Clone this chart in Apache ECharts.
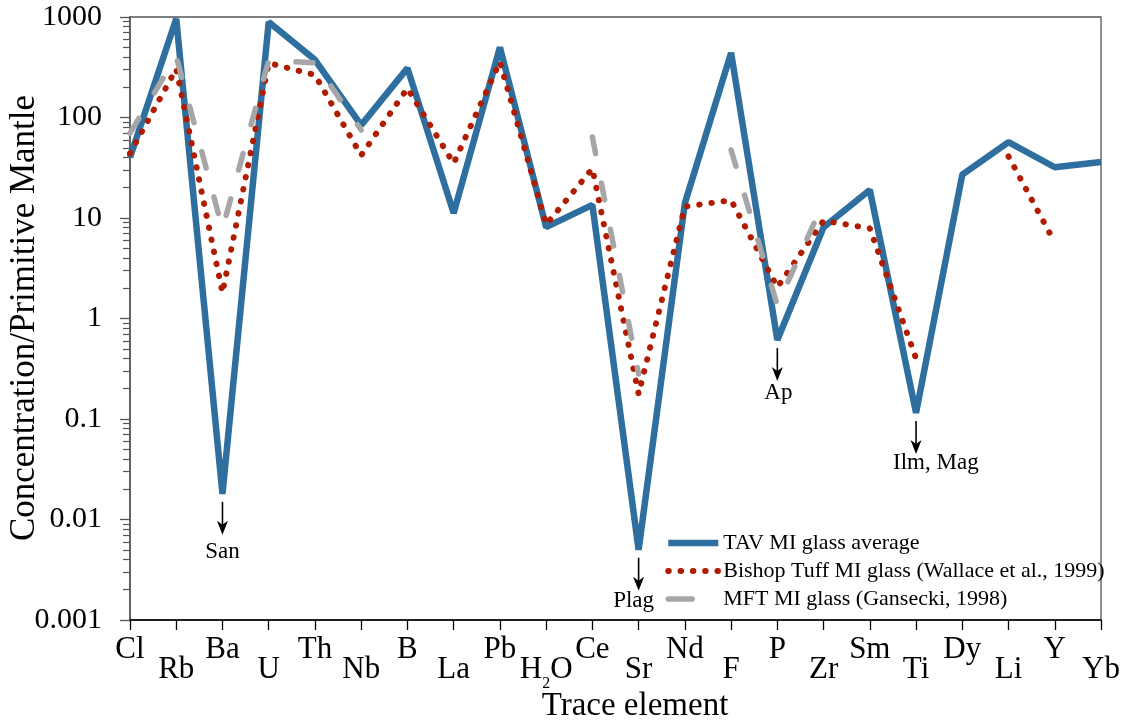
<!DOCTYPE html>
<html><head><meta charset="utf-8">
<script src="https://cdn.jsdelivr.net/npm/echarts@6/dist/echarts.min.js"></script>
<style>html,body{margin:0;padding:0;background:#fff}#c{width:1132px;height:723px}</style>
</head><body><div id="c"></div>
<script>
// ---- data ----
const categories = ['Cl','Rb','Ba','U','Th','Nb','B','La','Pb','H2O','Ce','Sr','Nd','F','P','Zr','Sm','Ti','Dy','Li','Y','Yb'];
const tavValues    = [40, 960, 0.018, 890, 375, 84, 310, 11.2, 500, 8.1, 13.5, 0.005, 14, 440, 0.61, 8.1, 19, 0.115, 27, 57, 32, 36];
const bishopValues = [44, 305, 1.8, 348, 265, 42, 195, 35, 358, 8.6, 31, 0.177, 13, 15, 2.05, 9.4, 7.9, 0.40, null, 41, 5.7, null];
const mftValues    = [70, 405, 7.8, 370, 350, 75, null, null, null, null, 64, 0.28, null, 47.5, 1.35, 14.5, null, null, null, null, null, null];
const seriesNames = ['TAV MI glass average', 'Bishop Tuff MI glass (Wallace et al., 1999)', 'MFT MI glass (Gansecki, 1998)'];
const yTickLabels = ['0.001','0.01','0.1','1','10','100','1000'];
const annotationCategories = ['Ba','Sr','P','Ti'];
const annotationLabels = ['San','Plag','Ap','Ilm, Mag'];
const xTitle = 'Trace element';
const yTitle = 'Concentration/Primitive Mantle';

// ---- layout / style ----
const FONT = 'Liberation Serif';
const BLUE = '#2e6f9f', RED = '#b01c00', GRAY = '#a6a6a6';
const blueLine = {color: BLUE, width: 6.5};
const redLine = {color: RED, width: 6, type: [0.5, 11.8], cap: 'round'};
const grayLine = {color: GRAY, width: 5.5, type: [17, 30], cap: 'round'};
const grayLegendLine = {color: GRAY, width: 5.5, type: [24, 40], cap: 'round'};
const annotationLayout = [
  {dx: 0, dy: 58, align: 'center'},
  {dx: -5, dy: 51, align: 'center'},
  {dx: 1, dy: 53, align: 'center'},
  {dx: -23, dy: 50, align: 'left'}
];

const chart = echarts.init(document.getElementById('c'), null, {renderer: 'canvas'});

function catLabel(v) {
  return v === 'H2O' ? '{t|H}{s|2}{t|O}' : '{t|' + v + '}';
}
const rich = {
  t: {fontSize: 31, fontFamily: FONT, color: '#000', verticalAlign: 'top'},
  s: {fontSize: 16, fontFamily: FONT, color: '#000', verticalAlign: 'top', padding: [22, 0, 0, 0]}
};

function yFmt(v) {
  for (const t of yTickLabels) {
    const n = parseFloat(t);
    if (Math.abs(n - v) / n < 1e-6) return t;
  }
  return '';
}

const option = {
  animation: false,
  backgroundColor: '#fff',
  grid: {left: 130, right: 31, top: 17, bottom: 103, show: true, borderColor: '#555', borderWidth: 1.3, containLabel: false},
  xAxis: [
    {
      type: 'category', data: categories, boundaryGap: false, position: 'bottom',
      axisLine: {show: true, lineStyle: {color: '#000', width: 1.5}},
      axisTick: {show: true, interval: 0, length: 10, lineStyle: {color: '#000', width: 1.3}},
      axisLabel: {interval: function (i) { return i % 2 === 0; }, margin: 14, formatter: catLabel, rich: rich},
      splitLine: {show: false}
    },
    {
      type: 'category', data: categories, boundaryGap: false, position: 'bottom', offset: 0,
      axisLine: {show: false}, axisTick: {show: false},
      axisLabel: {interval: function (i) { return i % 2 === 1; }, margin: 34, formatter: catLabel, rich: rich},
      splitLine: {show: false}
    }
  ],
  yAxis: {
    type: 'log', logBase: 10, min: 0.001, max: 1000, splitNumber: 6,
    axisLine: {show: true, lineStyle: {color: '#555', width: 1.5}},
    axisTick: {show: true, length: 10, lineStyle: {color: '#555', width: 1.3}},
    minorTick: {show: true, splitNumber: 9, length: 7, lineStyle: {color: '#555', width: 1.2}},
    splitLine: {show: false}, minorSplitLine: {show: false},
    axisLabel: {fontSize: 30, fontFamily: FONT, color: '#000', margin: 28, formatter: yFmt}
  },
  legend: {
    orient: 'vertical', left: 660, top: 527, itemWidth: 50, itemHeight: 14, itemGap: 6,
    textStyle: {fontSize: 22, fontFamily: FONT, color: '#000'},
    itemStyle: {opacity: 0},
    data: [
      {name: seriesNames[0], lineStyle: blueLine, itemStyle: {opacity: 0}},
      {name: seriesNames[1], lineStyle: redLine, itemStyle: {opacity: 0}},
      {name: seriesNames[2], lineStyle: grayLegendLine, itemStyle: {opacity: 0}}
    ]
  },
  series: [
    {name: seriesNames[0], type: 'line', data: tavValues, symbol: 'none', z: 2,
     lineStyle: blueLine, itemStyle: {color: BLUE}},
    {name: seriesNames[1], type: 'line', data: bishopValues, symbol: 'none', z: 3, connectNulls: false,
     lineStyle: redLine, itemStyle: {color: RED}},
    {name: seriesNames[2], type: 'line', data: mftValues, symbol: 'none', z: 4, connectNulls: false,
     lineStyle: grayLine, itemStyle: {color: GRAY}}
  ]
};
chart.setOption(option);

// annotations (positioned from the data through the chart's scales)
const graphics = [];
annotationCategories.forEach(function (cat, k) {
  const idx = categories.indexOf(cat);
  const p = chart.convertToPixel({gridIndex: 0}, [idx, tavValues[idx]]);
  const x = p[0], y = p[1];
  const L = annotationLayout[k];
  graphics.push({type: 'line', shape: {x1: x, y1: y + 8, x2: x, y2: y + 36}, style: {stroke: '#000', lineWidth: 1.6}, silent: true});
  graphics.push({type: 'polygon', shape: {points: [[x - 5.5, y + 27], [x, y + 41], [x + 5.5, y + 27], [x, y + 31]]}, style: {fill: '#000'}, silent: true});
  graphics.push({type: 'text', x: x + L.dx, y: y + L.dy, silent: true,
    style: {text: annotationLabels[k], fontSize: 23, fontFamily: FONT, fill: '#000', align: L.align, verticalAlign: 'middle'}});
});
graphics.push({type: 'text', x: 635, y: 706, silent: true,
  style: {text: xTitle, fontSize: 33, fontFamily: FONT, fill: '#000', align: 'center', verticalAlign: 'middle'}});
graphics.push({type: 'text', x: 25, y: 318, rotation: Math.PI / 2, silent: true,
  style: {text: yTitle, fontSize: 35, fontFamily: FONT, fill: '#000', align: 'center', verticalAlign: 'middle'}});
chart.setOption({graphic: graphics});
</script>
</body></html>
